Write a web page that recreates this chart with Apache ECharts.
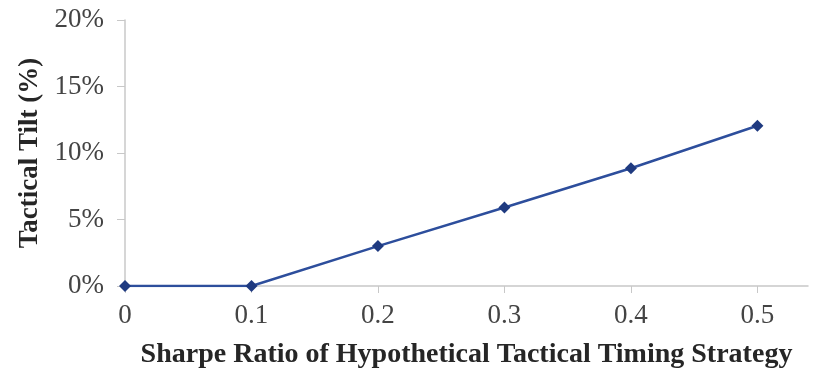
<!DOCTYPE html>
<html><head><meta charset="utf-8">
<script src="https://cdn.jsdelivr.net/npm/echarts@6/dist/echarts.min.js"></script>
<style>html,body{margin:0;padding:0;background:#fff}#c{width:816px;height:372px}</style>
</head><body><div id="c"></div>
<script>
const sharpe = [0, 0.1, 0.2, 0.3, 0.4, 0.5];
const tilt = [0, 0, 3.0, 5.9, 8.85, 12.05];
const yTicks = [0, 5, 10, 15, 20];
const xTitle = 'Sharpe Ratio of Hypothetical Tactical Timing Strategy';
const yTitle = 'Tactical Tilt (%)';

const chart = echarts.init(document.getElementById('c'));
const serif = 'Liberation Serif';
chart.setOption({
  animation: false,
  grid: {left: 125, right: 8, top: 20, bottom: 86, outerBoundsMode: 'none', containLabel: false},
  xAxis: {
    type: 'value', min: 0, max: 0.54, interval: 0.1,
    name: xTitle, nameLocation: 'middle', nameGap: 55,
    nameTextStyle: {fontFamily: serif, fontWeight: 'bold', fontSize: 28, color: '#262626'},
    axisLine: {lineStyle: {color: '#c8c8c8', width: 1.5}},
    axisTick: {show: true, length: 7, lineStyle: {color: '#c8c8c8'}, customValues: sharpe},
    axisLabel: {fontFamily: serif, fontSize: 27, color: '#444', margin: 16, customValues: sharpe,
      formatter: v => v === 0 ? '0' : String(v)},
    splitLine: {show: false}
  },
  yAxis: {
    type: 'value', min: 0, max: 20, interval: 5,
    name: yTitle, nameLocation: 'middle', nameGap: 81,
    nameTextStyle: {fontFamily: serif, fontWeight: 'bold', fontSize: 27, color: '#262626'},
    axisLine: {show: true, lineStyle: {color: '#c8c8c8', width: 1.5}},
    axisTick: {show: true, length: 8, lineStyle: {color: '#c8c8c8'}},
    axisLabel: {fontFamily: serif, fontSize: 27, color: '#444', margin: 21, formatter: v => v + '%'},
    splitLine: {show: false}
  },
  series: [{
    type: 'line',
    data: sharpe.map((x, i) => [x, tilt[i]]),
    symbol: 'diamond', symbolSize: 12,
    lineStyle: {color: '#2d4e9c', width: 2.5},
    itemStyle: {color: '#1f3a80'}
  }]
});
</script></body></html>
